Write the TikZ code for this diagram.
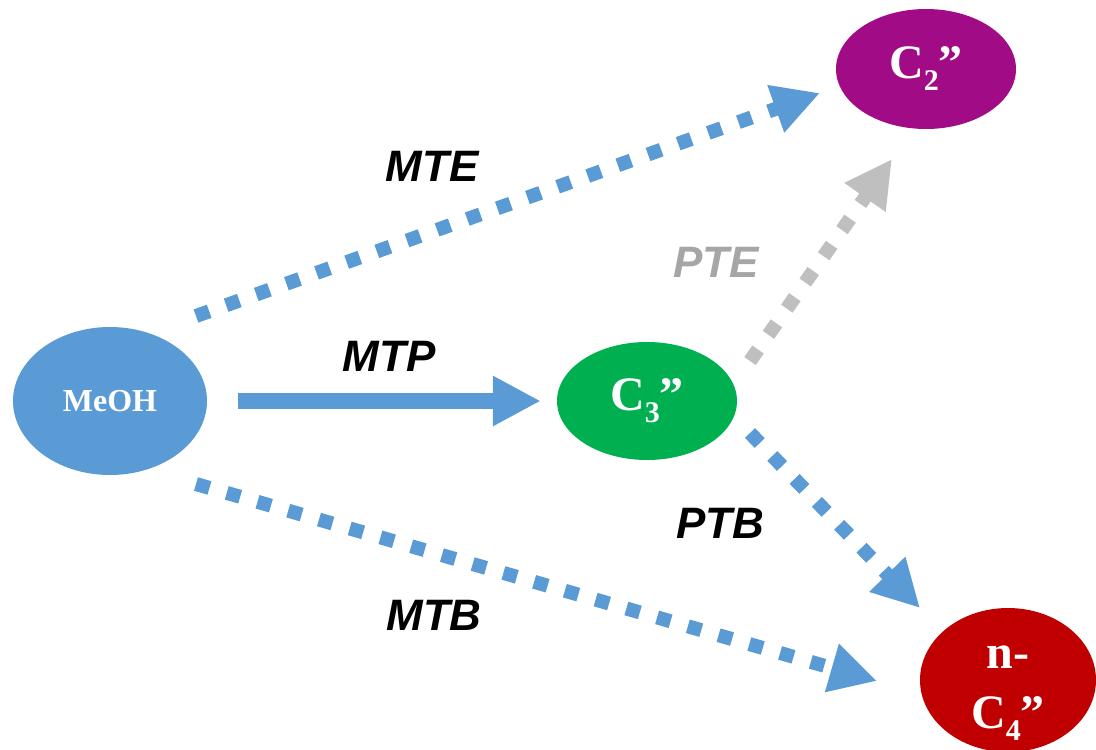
\documentclass[tikz,border=0pt]{standalone}
\usepackage{fontspec}
\setmainfont{Liberation Serif}
\newfontfamily\labfont{Liberation Sans}
\usetikzlibrary{shapes.geometric,arrows.meta}
\definecolor{cblue}{HTML}{5B9BD5}
\definecolor{cgreen}{HTML}{00B050}
\definecolor{cpurple}{HTML}{A20B86}
\definecolor{cred}{HTML}{C00000}
\definecolor{cgreyarrow}{HTML}{BFBFBF}
\definecolor{cgreytext}{HTML}{A6A6A6}
\newcommand{\bigsub}[1]{\raisebox{-12pt}{\fontsize{30}{30}\selectfont #1}}
\tikzset{
  species/.style={ellipse, inner sep=0pt, text=white, font=\bfseries\fontsize{48}{60}\selectfont, align=center},
  spectext/.style={inner sep=0pt, text=white, font=\bfseries\fontsize{48}{60}\selectfont, align=center},
  dotarrow/.style={line width=14pt, dash pattern=on 14pt off 18pt, -{Triangle[length=47pt,width=47pt]}},
  solidarrow/.style={line width=16pt, -{Triangle[length=48pt,width=47pt]}},
  rxn/.style={font=\labfont\bfseries\itshape\fontsize{44}{50}\selectfont}
}
\begin{document}
\begin{tikzpicture}[x=1pt,y=-1pt]
\useasboundingbox (0,0) rectangle (1096,750);
% nodes
\node[species, fill=cblue, minimum width=194pt, minimum height=148pt, font=\bfseries\fontsize{32}{38}\selectfont] (meoh) at (110,401) {MeOH};
\node[species, fill=cgreen, minimum width=180pt, minimum height=118pt] (c3) at (647,401) {C\bigsub{3}”};
\node[species, fill=cpurple, minimum width=180pt, minimum height=120pt] (c2) at (926,69) {C\bigsub{2}”};
\node[species, fill=cred, minimum width=176pt, minimum height=144pt] (c4) at (1008,680) {};
\node[spectext] (c4t) at ([yshift=-13pt]c4.center) {n-\\C\bigsub{4}”};
% free ends of connectors
\coordinate (mte-a) at (196,316);
\coordinate (mte-b) at (820,93);
\coordinate (mtb-a) at (196,484);
\coordinate (mtb-b) at (877,681);
\coordinate (pte-a) at (750,361);
\coordinate (pte-b) at (892,159);
\coordinate (ptb-a) at (750,433);
\coordinate (ptb-b) at (920,608);
% connectors
\draw[solidarrow, draw=cblue, shorten <=31pt, shorten >=16pt] (meoh.east) -- (c3.west);
\draw[dotarrow, draw=cblue] (mte-a) -- (mte-b);
\draw[dotarrow, draw=cblue] (mtb-a) -- (mtb-b);
\draw[dotarrow, draw=cgreyarrow] (pte-a) -- (pte-b);
\draw[dotarrow, draw=cblue] (ptb-a) -- (ptb-b);
% labels
\node[rxn] (lmte) at (432,166) {MTE};
\node[rxn] (lmtp) at (389,356) {MTP};
\node[rxn, text=cgreytext] (lpte) at (716,262) {PTE};
\node[rxn] (lptb) at (720,523) {PTB};
\node[rxn] (lmtb) at (434,615) {MTB};
\end{tikzpicture}
\end{document}
